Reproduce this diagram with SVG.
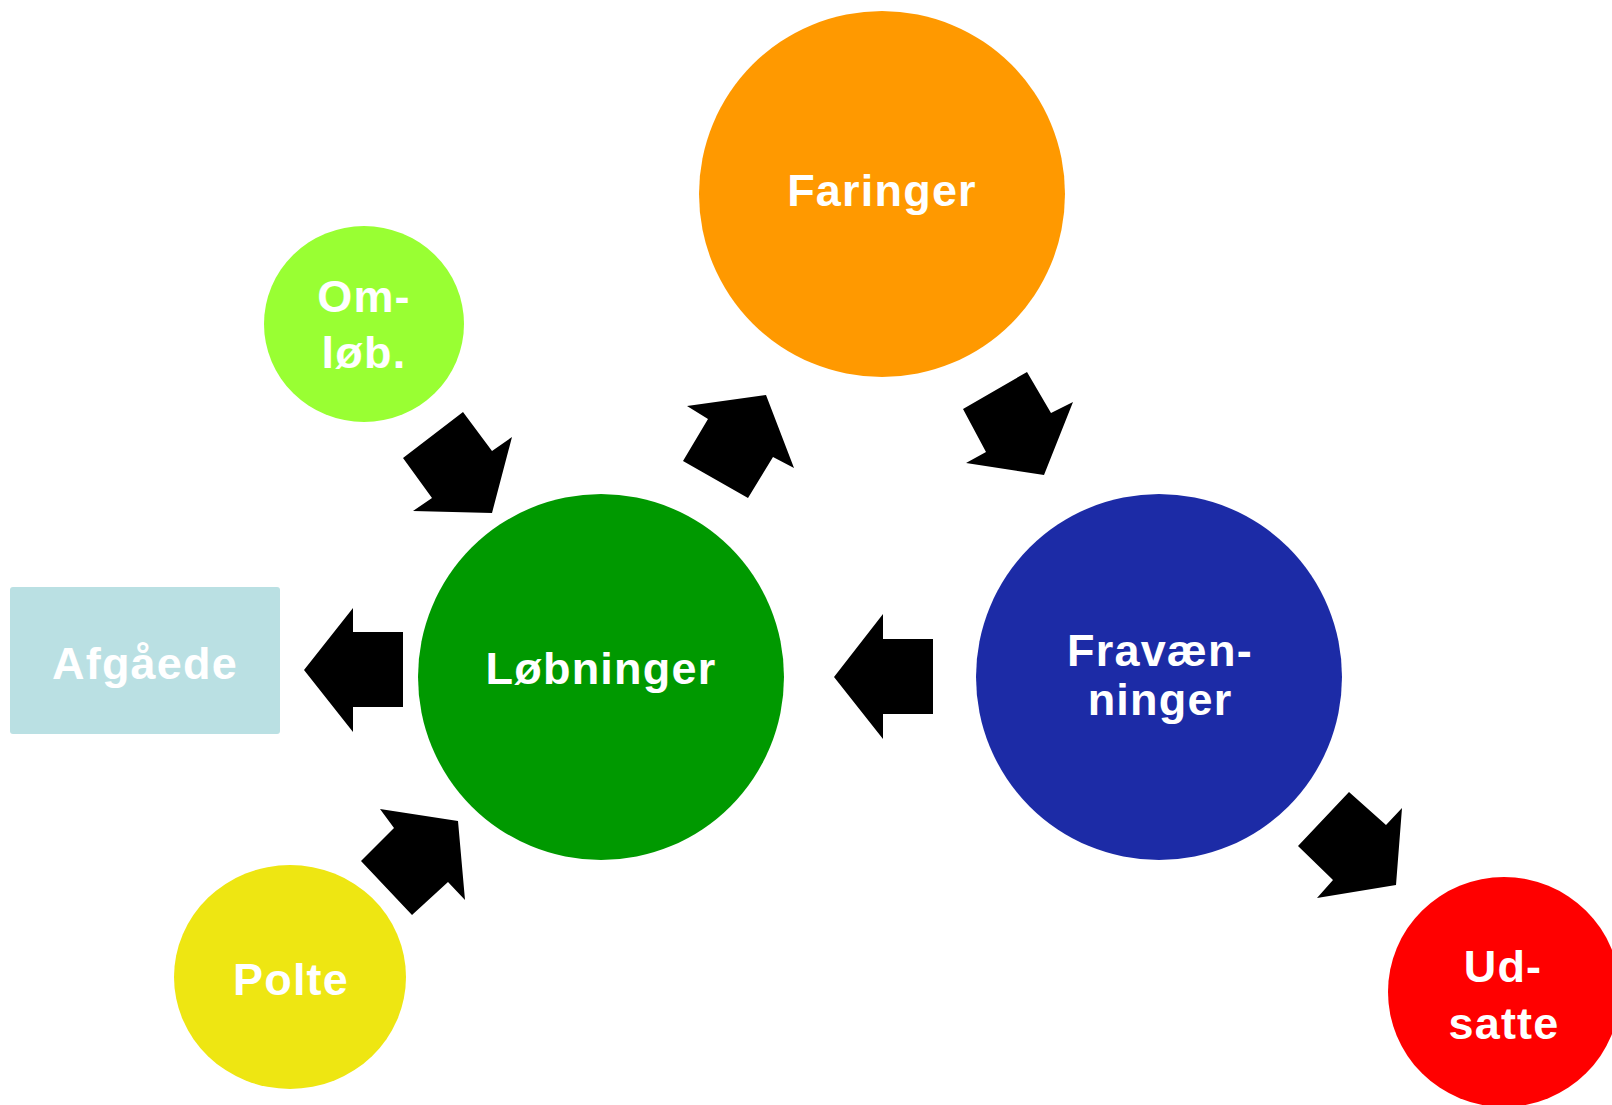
<svg xmlns="http://www.w3.org/2000/svg" width="1612" height="1105" viewBox="0 0 1612 1105">
<style>
.lbl{font-family:"Liberation Sans",Arial,sans-serif;font-weight:bold;font-size:45px;fill:#ffffff;text-anchor:middle;letter-spacing:1.2px}
.arr{fill:#000000}
</style>
<rect width="1612" height="1105" fill="#ffffff"/>
<g id="connectors">
<polygon class="arr" points="403,632 353,632 353,608 304,670 353,732 353,707 403,707"/>
<polygon class="arr" points="933,639 883,639 883,614 834,677 883,739 883,714 933,714"/>
<polygon class="arr" points="403,458 463,412 492,451 512,437 492,513 413,511 432,498"/>
<polygon class="arr" points="683,461 708,419 687,406 766,395 794,468 773,457 748,498"/>
<polygon class="arr" points="963,409 1027,372 1051,413 1073,402 1044,475 966,463 986,452"/>
<polygon class="arr" points="1298,846 1349,792 1386,825 1402,808 1396,885 1317,898 1333,880"/>
<polygon class="arr" points="361,861 394,828 380,809 458,821 465,900 448,882 412,915"/>
</g>
<g id="faringer">
<circle cx="882" cy="194" r="183" fill="#FF9900"/>
<text class="lbl" x="882" y="206">Faringer</text>
</g>
<g id="omloeb">
<ellipse cx="364" cy="324" rx="100" ry="98" fill="#99FF33"/>
<text class="lbl" x="364" y="312">Om-</text>
<text class="lbl" x="364" y="368">løb.</text>
</g>
<g id="loebninger">
<circle cx="601" cy="677" r="183" fill="#009900"/>
<text class="lbl" x="601" y="684">Løbninger</text>
</g>
<g id="fravaenninger">
<circle cx="1159" cy="677" r="183" fill="#1C2BA6"/>
<text class="lbl" x="1160" y="666">Fravæn-</text>
<text class="lbl" x="1160" y="715">ninger</text>
</g>
<g id="afgaaede">
<rect x="10" y="587" width="270" height="147" rx="3" fill="#BAE0E3"/>
<text class="lbl" x="145" y="679">Afgåede</text>
</g>
<g id="polte">
<ellipse cx="290" cy="977" rx="116" ry="112" fill="#EEE612"/>
<text class="lbl" x="291" y="995">Polte</text>
</g>
<g id="udsatte">
<ellipse cx="1504" cy="992" rx="116" ry="115" fill="#FF0000"/>
<text class="lbl" x="1503" y="982">Ud-</text>
<text class="lbl" x="1504" y="1039">satte</text>
</g>
</svg>
